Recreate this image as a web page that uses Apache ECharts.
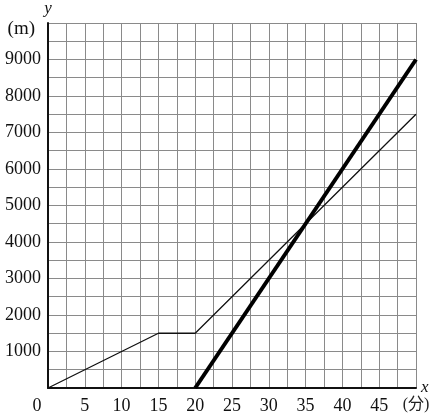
<!DOCTYPE html>
<html>
<head>
<meta charset="utf-8">
<script src="https://cdn.jsdelivr.net/npm/echarts@6/dist/echarts.min.js"></script>
<style>
  html, body { margin: 0; padding: 0; background: #fff; }
  #chart { width: 434px; height: 415px; }
</style>
</head>
<body>
<div id="chart"></div>
<script>
// minutes / metres
const walkX = [0, 15, 20, 50];
const walkY = [0, 1500, 1500, 7500];
const bikeX = [20, 50];
const bikeY = [0, 9000];

const xTickLabels = {0: '0', 50: '(分)'};
const yTickLabels = {10000: '(m)'};

const font = "'Liberation Serif', 'Noto Sans CJK JP', serif";

const chart = echarts.init(document.getElementById('chart'));

const option = {
    animation: false,
    grid: {left: 48, top: 21, right: 18, bottom: 27, containLabel: false},
    xAxis: {
        type: 'value',
        min: 0,
        max: 50,
        interval: 2.5,
        name: 'x',
        nameLocation: 'end',
        nameGap: 5,
        nameTextStyle: {fontFamily: font, fontStyle: 'italic', fontSize: 17, color: '#111', padding: [0, 0, 4, 0]},
        axisLine: {lineStyle: {color: '#111', width: 2}},
        axisTick: {show: false},
        splitLine: {lineStyle: {color: '#8a8a8a', width: 1}},
        axisLabel: {
            margin: 9,
            fontFamily: font,
            fontSize: 18,
            color: '#111',
            showMaxLabel: true,
            formatter: (v) => {
                if (v === 0) return '{z|0}';
                if (v === 50) return '{u|' + xTickLabels[v] + '}';
                return v % 5 === 0 ? String(v) : '';
            },
            rich: {
                z: {fontFamily: font, fontSize: 18, color: '#111', padding: [0, 22, 0, 0]},
                u: {fontFamily: font, fontSize: 16, color: '#222'}
            }
        }
    },
    yAxis: {
        type: 'value',
        min: 0,
        max: 10000,
        interval: 500,
        name: 'y',
        nameLocation: 'end',
        nameGap: 6,
        nameTextStyle: {fontFamily: font, fontStyle: 'italic', fontSize: 17, color: '#111', align: 'center'},
        axisLine: {show: true, lineStyle: {color: '#111', width: 2}},
        axisTick: {show: false},
        splitLine: {lineStyle: {color: '#8a8a8a', width: 1}},
        axisLabel: {
            margin: 7,
            fontFamily: font,
            fontSize: 18,
            color: '#111',
            showMaxLabel: true,
            formatter: (v) => {
                if (v === 0) return '';
                if (yTickLabels[v]) return '{m|' + yTickLabels[v] + '}';
                return v % 1000 === 0 ? String(v) : '';
            },
            rich: {m: {fontFamily: font, fontSize: 19, color: '#111', padding: [12, 6, 0, 0]}}
        }
    },
    series: [
        {
            type: 'line',
            data: walkX.map((x, i) => [x, walkY[i]]),
            symbol: 'none',
            lineStyle: {color: '#111', width: 1.3}
        },
        {
            type: 'line',
            data: bikeX.map((x, i) => [x, bikeY[i]]),
            symbol: 'none',
            lineStyle: {color: '#000', width: 4}
        }
    ]
};
chart.setOption(option);
</script>
</body>
</html>
